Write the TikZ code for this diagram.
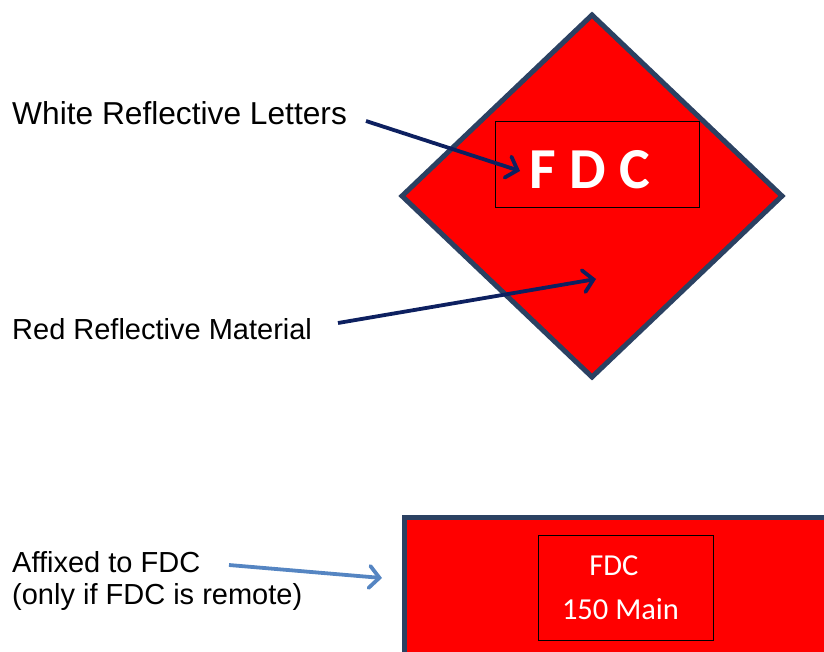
\documentclass[tikz,border=0pt]{standalone}
\usepackage{fontspec}
\setmainfont{Liberation Sans}
\newfontfamily\calibri{Carlito}
\usetikzlibrary{arrows.meta}
\definecolor{signred}{HTML}{FF0000}
\definecolor{edgeblue}{HTML}{2B4162}
\definecolor{navyarrow}{HTML}{0D2060}
\definecolor{lightarrow}{HTML}{5585C2}
\begin{document}
\begin{tikzpicture}[x=1pt,y=-1pt,
  lbl/.style={anchor=base west, inner sep=0, font=\fontsize{29}{32}\selectfont},
  ptr/.style={line width=3.8pt, draw=navyarrow, -{Straight Barb[length=10pt,width=22pt,line cap=round]}},
  lptr/.style={line width=3.8pt, draw=lightarrow, -{Straight Barb[length=10pt,width=22pt,line cap=round]}},
  sign/.style={fill=signred, draw=edgeblue, line width=5pt, line join=miter},
  frame/.style={draw=black, line width=1pt, inner sep=0},
  plate text/.style={text=white, inner sep=0, anchor=base, font=\calibri\fontsize{30.5}{32}\selectfont}]
\useasboundingbox (0,0) rectangle (824,651);
% diamond sign
\path[sign] (592,15) -- (782,196) -- (592,377) -- (402,196) -- cycle;
\node[frame, minimum width=204pt, minimum height=86pt] (box) at (597,164) {};
\node[text=white, inner sep=0, anchor=base, font=\calibri\bfseries\fontsize{58}{60}\selectfont] (fdc) at (590,188) {F D C};
% labels
\node[lbl, font=\fontsize{31.7}{34}\selectfont] (wl) at (12,124) {White Reflective Letters};
\node[lbl] (rm) at (12,339) {Red Reflective Material};
\coordinate (wls) at (366,121);
\coordinate (wle) at (520,171);
\coordinate (rms) at (338,323);
\coordinate (rme) at (596,279);
\draw[ptr] (wls) -- (wle);
\draw[ptr] (rms) -- (rme);
% bottom plate
\path[sign] (404,517) rectangle (840,670);
\node[frame, minimum width=175pt, minimum height=105pt] (plate) at (626,587.5) {};
\node[plate text] (p1) at (614,575) {FDC};
\node[plate text] (p2) at (620.5,619) {150 Main};
\node[lbl] (af) at (12,572) {Affixed to FDC};
\node[lbl] (af2) at (12,604) {(only if FDC is remote)};
\coordinate (afs) at (229,565);
\coordinate (afe) at (382,578);
\draw[lptr] (afs) -- (afe);
\end{tikzpicture}
\end{document}
